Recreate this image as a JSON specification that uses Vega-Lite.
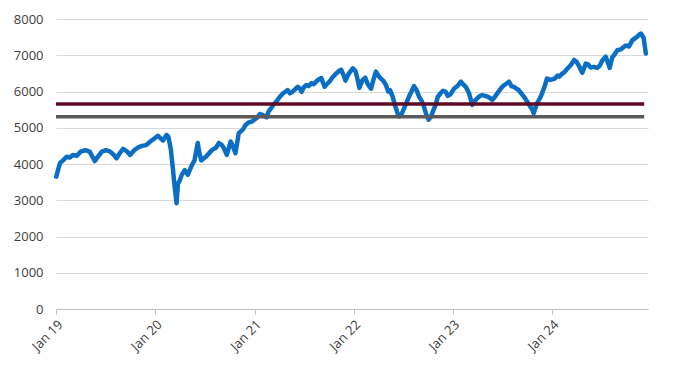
{
  "$schema": "https://vega.github.io/schema/vega-lite/v6.json",
  "width": 592,
  "height": 290,
  "autosize": {"type": "none"},
  "padding": {"left": 56, "top": 19, "right": 33, "bottom": 60},
  "background": "white",
  "config": {
    "view": {"stroke": null},
    "font": "Open Sans",
    "axis": {"labelColor": "#404040", "labelFontSize": 13, "labelFont": "Open Sans", "title": null}
  },
  "datasets": {
    "series": [
      {"d": "2019-01-02", "v": 3650}, {"d": "2019-01-09", "v": 3850}, {"d": "2019-01-16", "v": 4028},
      {"d": "2019-01-27", "v": 4100}, {"d": "2019-02-09", "v": 4200}, {"d": "2019-02-21", "v": 4180},
      {"d": "2019-03-04", "v": 4250}, {"d": "2019-03-19", "v": 4230}, {"d": "2019-04-01", "v": 4340},
      {"d": "2019-04-19", "v": 4380}, {"d": "2019-05-05", "v": 4340}, {"d": "2019-05-24", "v": 4080},
      {"d": "2019-06-04", "v": 4200}, {"d": "2019-06-19", "v": 4340}, {"d": "2019-07-04", "v": 4380},
      {"d": "2019-07-18", "v": 4350}, {"d": "2019-08-02", "v": 4250}, {"d": "2019-08-12", "v": 4160},
      {"d": "2019-08-24", "v": 4300}, {"d": "2019-09-05", "v": 4420}, {"d": "2019-09-19", "v": 4350},
      {"d": "2019-10-01", "v": 4250}, {"d": "2019-10-16", "v": 4380}, {"d": "2019-10-31", "v": 4460},
      {"d": "2019-11-14", "v": 4500}, {"d": "2019-11-29", "v": 4520}, {"d": "2019-12-14", "v": 4620},
      {"d": "2019-12-29", "v": 4700}, {"d": "2020-01-11", "v": 4780}, {"d": "2020-01-22", "v": 4700},
      {"d": "2020-01-30", "v": 4650}, {"d": "2020-02-12", "v": 4800}, {"d": "2020-02-19", "v": 4750},
      {"d": "2020-02-28", "v": 4400}, {"d": "2020-03-06", "v": 3900}, {"d": "2020-03-14", "v": 3300},
      {"d": "2020-03-20", "v": 2920}, {"d": "2020-03-25", "v": 3450}, {"d": "2020-04-01", "v": 3550},
      {"d": "2020-04-08", "v": 3700}, {"d": "2020-04-19", "v": 3830}, {"d": "2020-04-30", "v": 3700},
      {"d": "2020-05-13", "v": 3930}, {"d": "2020-05-25", "v": 4100}, {"d": "2020-06-06", "v": 4580},
      {"d": "2020-06-12", "v": 4300}, {"d": "2020-06-19", "v": 4100}, {"d": "2020-07-06", "v": 4200},
      {"d": "2020-07-18", "v": 4300}, {"d": "2020-07-29", "v": 4390}, {"d": "2020-08-12", "v": 4450},
      {"d": "2020-08-23", "v": 4580}, {"d": "2020-09-03", "v": 4520}, {"d": "2020-09-10", "v": 4440},
      {"d": "2020-09-21", "v": 4250}, {"d": "2020-10-05", "v": 4620}, {"d": "2020-10-13", "v": 4500},
      {"d": "2020-10-23", "v": 4300}, {"d": "2020-11-04", "v": 4850}, {"d": "2020-11-19", "v": 4950},
      {"d": "2020-11-29", "v": 5075}, {"d": "2020-12-11", "v": 5150}, {"d": "2020-12-22", "v": 5170},
      {"d": "2021-01-09", "v": 5270}, {"d": "2021-01-21", "v": 5380}, {"d": "2021-02-01", "v": 5350},
      {"d": "2021-02-14", "v": 5290}, {"d": "2021-02-22", "v": 5450}, {"d": "2021-03-04", "v": 5550},
      {"d": "2021-03-13", "v": 5650}, {"d": "2021-03-23", "v": 5730}, {"d": "2021-04-04", "v": 5850},
      {"d": "2021-04-16", "v": 5950}, {"d": "2021-04-26", "v": 6000}, {"d": "2021-05-03", "v": 6040},
      {"d": "2021-05-11", "v": 5950}, {"d": "2021-05-22", "v": 6000}, {"d": "2021-06-02", "v": 6080},
      {"d": "2021-06-09", "v": 6130}, {"d": "2021-06-17", "v": 6080}, {"d": "2021-06-23", "v": 5990},
      {"d": "2021-07-02", "v": 6120}, {"d": "2021-07-11", "v": 6180}, {"d": "2021-07-20", "v": 6150},
      {"d": "2021-07-30", "v": 6230}, {"d": "2021-08-07", "v": 6200}, {"d": "2021-08-17", "v": 6280},
      {"d": "2021-08-25", "v": 6330}, {"d": "2021-09-04", "v": 6370}, {"d": "2021-09-16", "v": 6130},
      {"d": "2021-09-24", "v": 6200}, {"d": "2021-10-05", "v": 6280}, {"d": "2021-10-16", "v": 6400},
      {"d": "2021-10-29", "v": 6500}, {"d": "2021-11-07", "v": 6560}, {"d": "2021-11-16", "v": 6600},
      {"d": "2021-11-25", "v": 6450}, {"d": "2021-12-02", "v": 6300}, {"d": "2021-12-13", "v": 6480},
      {"d": "2021-12-29", "v": 6640}, {"d": "2022-01-08", "v": 6560}, {"d": "2022-01-15", "v": 6350},
      {"d": "2022-01-22", "v": 6100}, {"d": "2022-02-03", "v": 6320}, {"d": "2022-02-13", "v": 6380},
      {"d": "2022-02-22", "v": 6200}, {"d": "2022-03-06", "v": 6080}, {"d": "2022-03-14", "v": 6300},
      {"d": "2022-03-24", "v": 6550}, {"d": "2022-04-01", "v": 6450}, {"d": "2022-04-11", "v": 6360},
      {"d": "2022-04-20", "v": 6300}, {"d": "2022-04-30", "v": 6180}, {"d": "2022-05-08", "v": 6000},
      {"d": "2022-05-15", "v": 6040}, {"d": "2022-05-25", "v": 5850}, {"d": "2022-06-01", "v": 5650},
      {"d": "2022-06-11", "v": 5420}, {"d": "2022-06-17", "v": 5310}, {"d": "2022-06-25", "v": 5350},
      {"d": "2022-07-06", "v": 5540}, {"d": "2022-07-15", "v": 5700}, {"d": "2022-07-24", "v": 5860},
      {"d": "2022-08-02", "v": 6000}, {"d": "2022-08-11", "v": 6150}, {"d": "2022-08-20", "v": 6050},
      {"d": "2022-08-30", "v": 5860}, {"d": "2022-09-08", "v": 5750}, {"d": "2022-09-17", "v": 5580},
      {"d": "2022-09-26", "v": 5350}, {"d": "2022-10-04", "v": 5220}, {"d": "2022-10-12", "v": 5300},
      {"d": "2022-10-20", "v": 5450}, {"d": "2022-10-30", "v": 5630}, {"d": "2022-11-07", "v": 5850},
      {"d": "2022-11-17", "v": 5950}, {"d": "2022-11-26", "v": 6020}, {"d": "2022-12-06", "v": 5990},
      {"d": "2022-12-14", "v": 5880}, {"d": "2022-12-23", "v": 5920}, {"d": "2023-01-07", "v": 6090},
      {"d": "2023-01-18", "v": 6150}, {"d": "2023-01-31", "v": 6270}, {"d": "2023-02-08", "v": 6200},
      {"d": "2023-02-18", "v": 6130}, {"d": "2023-03-02", "v": 5950}, {"d": "2023-03-14", "v": 5630},
      {"d": "2023-03-24", "v": 5750}, {"d": "2023-04-01", "v": 5810}, {"d": "2023-04-11", "v": 5880},
      {"d": "2023-04-20", "v": 5900}, {"d": "2023-04-30", "v": 5880}, {"d": "2023-05-08", "v": 5860},
      {"d": "2023-05-18", "v": 5820}, {"d": "2023-05-26", "v": 5770}, {"d": "2023-06-05", "v": 5850},
      {"d": "2023-06-14", "v": 5950}, {"d": "2023-06-24", "v": 6050}, {"d": "2023-07-02", "v": 6130},
      {"d": "2023-07-14", "v": 6200}, {"d": "2023-07-27", "v": 6270}, {"d": "2023-08-05", "v": 6150},
      {"d": "2023-08-14", "v": 6130}, {"d": "2023-08-23", "v": 6080}, {"d": "2023-09-01", "v": 6040},
      {"d": "2023-09-10", "v": 5950}, {"d": "2023-09-20", "v": 5860}, {"d": "2023-10-02", "v": 5720},
      {"d": "2023-10-14", "v": 5580}, {"d": "2023-10-21", "v": 5500}, {"d": "2023-10-26", "v": 5400},
      {"d": "2023-11-07", "v": 5670}, {"d": "2023-11-17", "v": 5800}, {"d": "2023-11-26", "v": 5950},
      {"d": "2023-12-08", "v": 6200}, {"d": "2023-12-14", "v": 6360}, {"d": "2023-12-26", "v": 6320},
      {"d": "2024-01-10", "v": 6350}, {"d": "2024-01-22", "v": 6440}, {"d": "2024-01-28", "v": 6410},
      {"d": "2024-02-09", "v": 6500}, {"d": "2024-02-15", "v": 6520}, {"d": "2024-02-26", "v": 6620},
      {"d": "2024-03-11", "v": 6730}, {"d": "2024-03-23", "v": 6870}, {"d": "2024-04-01", "v": 6820},
      {"d": "2024-04-10", "v": 6700}, {"d": "2024-04-22", "v": 6520}, {"d": "2024-05-05", "v": 6770},
      {"d": "2024-05-13", "v": 6750}, {"d": "2024-05-23", "v": 6660}, {"d": "2024-06-04", "v": 6680},
      {"d": "2024-06-16", "v": 6650}, {"d": "2024-06-26", "v": 6720}, {"d": "2024-07-04", "v": 6850},
      {"d": "2024-07-17", "v": 6960}, {"d": "2024-07-23", "v": 6850}, {"d": "2024-08-01", "v": 6650},
      {"d": "2024-08-11", "v": 6950}, {"d": "2024-08-19", "v": 7020}, {"d": "2024-08-29", "v": 7140},
      {"d": "2024-09-10", "v": 7160}, {"d": "2024-09-16", "v": 7190}, {"d": "2024-09-29", "v": 7270},
      {"d": "2024-10-11", "v": 7240}, {"d": "2024-10-23", "v": 7410}, {"d": "2024-11-04", "v": 7480},
      {"d": "2024-11-10", "v": 7510}, {"d": "2024-11-20", "v": 7580}, {"d": "2024-11-24", "v": 7600},
      {"d": "2024-12-04", "v": 7480}, {"d": "2024-12-10", "v": 7150}, {"d": "2024-12-12", "v": 7050}
    ],
    "levels": [
      {"name": "upper", "start": "2019-01-01", "end": "2024-12-06", "level": 5655},
      {"name": "lower", "start": "2019-01-01", "end": "2024-12-06", "level": 5305}
    ]
  },
  "encoding": {
    "y": {
      "type": "quantitative",
      "scale": {"domain": [0, 8000], "nice": false},
      "axis": {
        "values": [0, 1000, 2000, 3000, 4000, 5000, 6000, 7000, 8000],
        "format": "d", "labelOverlap": false,
        "domain": false, "ticks": false, "labelPadding": 13,
        "gridColor": "#D9D9D9", "gridWidth": 1
      }
    }
  },
  "layer": [
    {
      "data": {"name": "series"},
      "mark": {"type": "line", "color": "#0A6FC4", "strokeWidth": 4.5, "strokeJoin": "round", "strokeCap": "round"},
      "encoding": {
        "x": {
          "field": "d", "type": "temporal",
          "scale": {"domain": ["2019-01-01", "2024-12-20"]},
          "axis": {
            "values": ["2019-01-01", "2020-01-01", "2021-01-01", "2022-01-01", "2023-01-01", "2024-01-01"],
            "format": "%b %y", "labelAngle": -45, "grid": false,
            "domainColor": "#BFBFBF", "tickColor": "#BFBFBF", "tickSize": 5, "labelPadding": 4
          }
        },
        "y": {"field": "v"}
      }
    },
    {
      "data": {"name": "levels"},
      "mark": {"type": "rule", "strokeWidth": 3.5},
      "encoding": {
        "x": {"field": "start", "type": "temporal"},
        "x2": {"field": "end"},
        "y": {"field": "level"},
        "color": {
          "field": "name", "type": "nominal",
          "scale": {"domain": ["upper", "lower"], "range": ["#5E0B24", "#595959"]},
          "legend": null
        }
      }
    }
  ]
}
